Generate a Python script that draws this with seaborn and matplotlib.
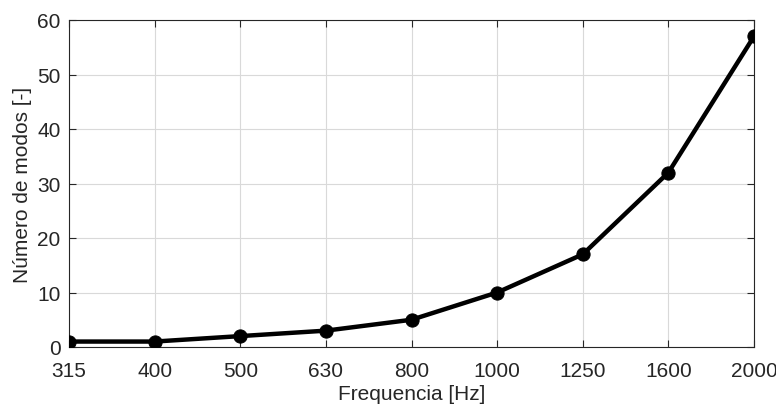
import matplotlib
matplotlib.use("Agg")
import matplotlib.pyplot as plt
import seaborn as sns
import pandas as pd

freq_labels = ["315", "400", "500", "630", "800", "1000", "1250", "1600", "2000"]
num_modos = [1, 1, 2, 3, 5, 10, 17, 32, 57]
y_ticks = [0, 10, 20, 30, 40, 50, 60]

df = pd.DataFrame({"pos": range(len(freq_labels)), "modos": num_modos})

sns.set_style("white")
plt.rcParams["font.family"] = ["Liberation Sans", "DejaVu Sans"]

fig = plt.figure(figsize=(7.76, 4.06), dpi=100)
ax = fig.add_axes([69 / 776, 1 - 348 / 406, (754 - 69) / 776, (348 - 21) / 406])

sns.lineplot(data=df, x="pos", y="modos", ax=ax, color="black", linewidth=3.2,
             marker="o", markersize=9.5, markeredgecolor="black", zorder=3)

ax.set_xlim(0, len(freq_labels) - 1)
ax.set_ylim(0, 60)
ax.set_xticks(range(len(freq_labels)))
ax.set_xticklabels(freq_labels)
ax.set_yticks(y_ticks)
ax.grid(True, color="#d9d9d9", linewidth=0.8)
ax.set_axisbelow(True)
for s in ax.spines.values():
    s.set_color("#262626")
    s.set_linewidth(0.8)
    s.set_visible(True)
ax.tick_params(direction="in", length=5, width=0.8, color="#262626",
               labelsize=15, labelcolor="#262626", top=True, right=True,
               bottom=True, left=True)
ax.tick_params(axis="x", pad=10)
ax.tick_params(axis="y", pad=6)
ax.set_xlabel("Frequencia [Hz]", fontsize=15, color="#262626", labelpad=3)
ax.set_ylabel("Número de modos [-]", fontsize=15, color="#262626", labelpad=4)

fig.savefig("out.png", dpi=100)
